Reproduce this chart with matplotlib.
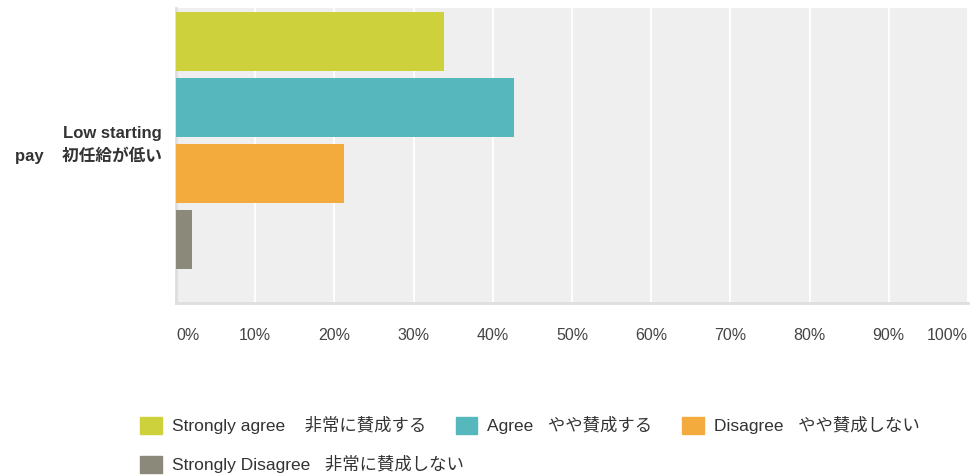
import matplotlib.pyplot as plt
from matplotlib.patches import Patch

plt.rcParams['font.family'] = ['Liberation Sans', 'Noto Sans CJK JP']

# data
category = "Low starting\npay    初任給が低い"
answers = ["Strongly agree    非常に賛成する", "Agree   やや賛成する",
           "Disagree   やや賛成しない", "Strongly Disagree   非常に賛成しない"]
values = [33.8, 42.7, 21.2, 2.0]
colors = ["#cdd13b", "#56b8bc", "#f2ab3c", "#8a897a"]
xticks = list(range(0, 101, 10))
xtick_labels = [f"{t}%" for t in xticks]

fig = plt.figure(figsize=(9.71, 4.76), dpi=100)
ax = fig.add_axes([176 / 971, 1 - 303 / 476, 792 / 971, 295 / 476])
ax.set_facecolor("#efefef")

# 4本の棒を上から順に
ypos = list(range(len(values)))
ax.barh(ypos, values, height=0.89, color=colors, zorder=3)

ax.set_xlim(0, 100)
ax.set_ylim(3.96, -0.5)
ax.set_xticks(xticks)
ax.set_xticklabels(xtick_labels, color="#444444", fontsize=11.5)
ax.get_xticklabels()[0].set_ha("left")
ax.get_xticklabels()[-1].set_ha("right")
ax.set_yticks([1.5])
ax.set_yticklabels([category], fontsize=12, fontweight="bold", color="#333333",
                   linespacing=1.4)
ax.tick_params(axis="x", length=0, pad=18)
ax.tick_params(axis="y", length=0, pad=10)
ax.grid(axis="x", color="white", linewidth=1.3, zorder=1)
for s in ["top", "right"]:
    ax.spines[s].set_visible(False)
for s in ["left", "bottom"]:
    ax.spines[s].set_color("#dedede")
    ax.spines[s].set_linewidth(2)

# 凡例 (2行)
handles = [Patch(facecolor=c, edgecolor=c) for c in colors]
legend_kw = dict(frameon=False, fontsize=12.5, handlelength=1.26,
                 handleheight=1.15, handletextpad=0.57, borderpad=0,
                 borderaxespad=0)
leg1 = fig.legend(handles[:3], answers[:3], ncol=3, loc="center left",
                  bbox_to_anchor=(140 / 971, 1 - 425 / 476),
                  columnspacing=1.7, **legend_kw)
leg2 = fig.legend(handles[3:], answers[3:], loc="center left",
                  bbox_to_anchor=(140 / 971, 1 - 464 / 476), **legend_kw)
for leg in (leg1, leg2):
    for t in leg.get_texts():
        t.set_color("#333333")

fig.savefig("out.png", dpi=100)
